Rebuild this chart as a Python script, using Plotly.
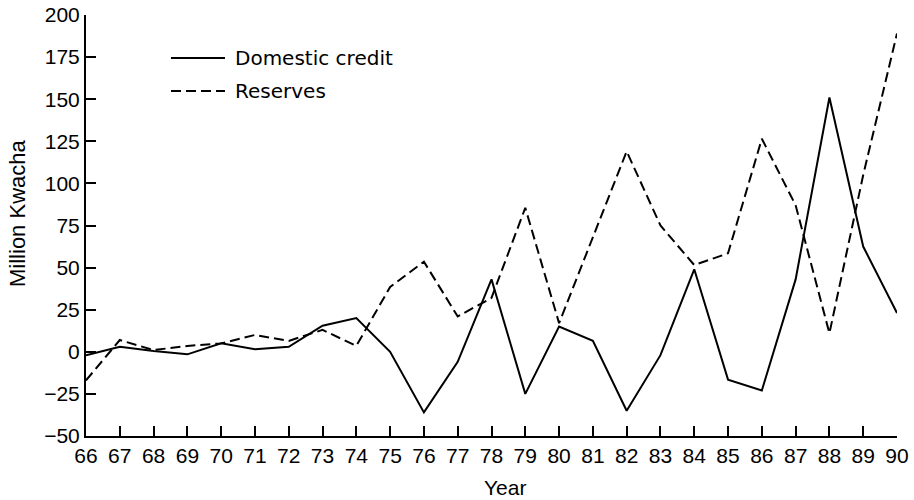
import plotly.graph_objects as go

years = list(range(66, 91))
year_labels = [str(y) for y in years]
domestic_credit = [-2, 3, 0.5, -1.5, 5, 1.5, 3, 15.5, 20, 0, -36, -6, 43, -25, 15,
                   6.5, -35, -2, 49, -16.5, -23, 43, 151, 62.5, 23]
reserves = [-17, 7, 1, 3.5, 5, 10, 6.5, 13, 3.5, 38.5, 53.5, 21, 32, 85.5, 17,
            68, 119, 75, 51.5, 58.5, 126.5, 87, 11, 105, 189]
y_ticks = [-50, -25, 0, 25, 50, 75, 100, 125, 150, 175, 200]

fig = go.Figure()
fig.add_trace(go.Scatter(x=years, y=domestic_credit, mode="lines", name="Domestic credit",
                         line=dict(color="black", width=2), showlegend=False))
fig.add_trace(go.Scatter(x=years, y=reserves, mode="lines", name="Reserves",
                         line=dict(color="black", width=2, dash="10px,5px"), showlegend=False))

# plot area in viewport pixels (body margin removed below)
W, H = 914, 500
PL, PR, PT, PB = 86, 897, 15, 436
pw, ph = PR - PL, PB - PT

def px(x):
    return (x - PL) / pw

def py(y):
    return (PB - y) / ph

# legend
for yy, dash, label in [(58, "solid", "Domestic credit"), (91, "10px,5px", "Reserves")]:
    fig.add_shape(type="line", xref="paper", yref="paper", x0=px(171), x1=px(225),
                  y0=py(yy), y1=py(yy), line=dict(color="black", width=2, dash=dash))
    fig.add_annotation(xref="paper", yref="paper", x=px(233), y=py(yy), text=label,
                       showarrow=False, xanchor="left", yanchor="middle",
                       font=dict(family="DejaVu Sans", size=20, color="black"))

fig.add_annotation(xref="paper", yref="paper", x=px(17), y=py(214), text="Million Kwacha",
                   textangle=-90, showarrow=False, xanchor="center", yanchor="middle",
                   font=dict(family="Liberation Sans", size=22, color="black"))
fig.add_annotation(xref="paper", yref="paper", x=px(505), y=py(487), text="Year",
                   showarrow=False, xanchor="center", yanchor="middle",
                   font=dict(family="Liberation Sans", size=21, color="black"))

fig.update_layout(
    template="none",
    width=W, height=H,
    margin=dict(l=PL, r=W - PR, t=PT, b=H - PB, pad=0),
    paper_bgcolor="white", plot_bgcolor="white",
    font=dict(family="Liberation Sans", size=20, color="black"),
    xaxis=dict(range=[66, 90], tickvals=years, ticktext=year_labels, showgrid=False,
               zeroline=False, showline=True, linecolor="black", linewidth=2,
               ticks="inside", ticklen=10, tickwidth=1.5, tickcolor="black",
               tickfont=dict(size=21), automargin=False, ticklabeloverflow="allow"),
    yaxis=dict(range=[-50, 200], tickvals=y_ticks, showgrid=False, zeroline=False,
               showline=True, linecolor="black", linewidth=2,
               ticks="inside", ticklen=10, tickwidth=1.5, tickcolor="black",
               tickfont=dict(size=21), automargin=False, ticklabeloverflow="allow"),
)

fig.write_html("out.html", config={"displayModeBar": False},
               post_script="document.body.style.margin='0';")
